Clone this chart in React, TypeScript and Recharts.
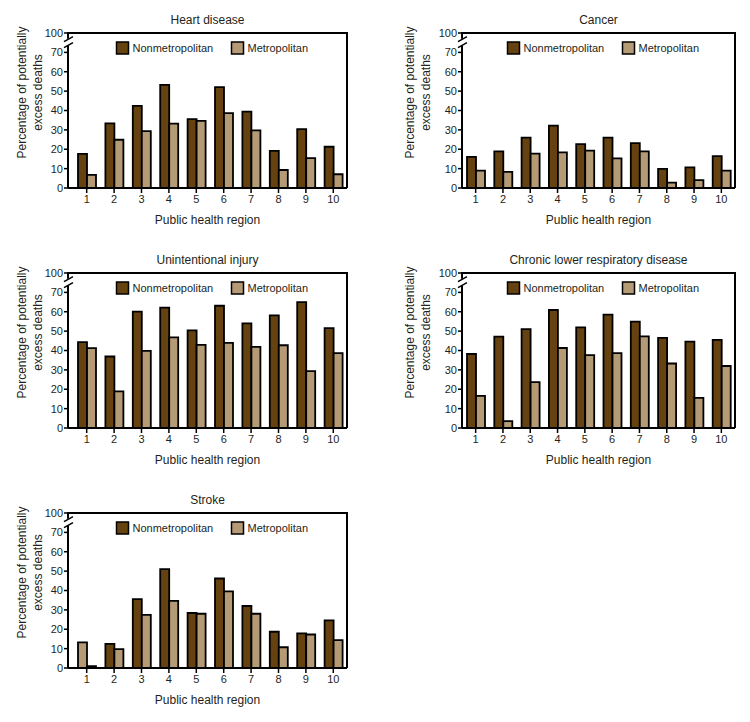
import { BarChart, Bar, XAxis, YAxis, Cell, usePlotArea } from "recharts";

const regions = ["1", "2", "3", "4", "5", "6", "7", "8", "9", "10"];
const seriesNames = ["Nonmetropolitan", "Metropolitan"];
const yTicks = [0, 10, 20, 30, 40, 50, 60, 70, 80];

const heartNonmetro = [17.6, 33.4, 42.4, 53.2, 35.5, 52.1, 39.4, 19.2, 30.4, 21.3];
const heartMetro = [6.8, 24.9, 29.4, 33.2, 34.6, 38.6, 29.7, 9.3, 15.4, 7.1];

const cancerNonmetro = [16.1, 18.9, 26.0, 32.2, 22.6, 26.0, 23.2, 9.9, 10.6, 16.5];
const cancerMetro = [9.0, 8.3, 17.7, 18.4, 19.3, 15.3, 18.9, 2.8, 4.1, 9.0];

const injuryNonmetro = [44.3, 36.9, 60.1, 62.1, 50.4, 63.1, 54.0, 58.1, 65.0, 51.6];
const injuryMetro = [41.2, 18.9, 39.8, 46.8, 42.9, 43.9, 41.9, 42.7, 29.4, 38.6];

const clrdNonmetro = [38.2, 47.2, 51.0, 60.9, 51.9, 58.5, 54.9, 46.5, 44.6, 45.5];
const clrdMetro = [16.6, 3.6, 23.7, 41.3, 37.6, 38.6, 47.3, 33.3, 15.5, 32.0];

const strokeNonmetro = [13.2, 12.5, 35.6, 51.0, 28.4, 46.2, 32.0, 18.7, 17.9, 24.6];
const strokeMetro = [1.0, 9.7, 27.4, 34.6, 28.0, 39.5, 28.0, 10.7, 17.3, 14.4];

const DARK = "#654210";
const LIGHT = "#b49b76";
const INK = "#231f20";

const panels = [
  { title: "Heart disease", nonmetro: heartNonmetro, metro: heartMetro, row: 0, col: 0 },
  { title: "Cancer", nonmetro: cancerNonmetro, metro: cancerMetro, row: 0, col: 1 },
  { title: "Unintentional injury", nonmetro: injuryNonmetro, metro: injuryMetro, row: 1, col: 0 },
  { title: "Chronic lower respiratory disease", nonmetro: clrdNonmetro, metro: clrdMetro, row: 1, col: 1 },
  // region 1 nonmetro bar is drawn in the lighter shade in the original
  { title: "Stroke", nonmetro: strokeNonmetro, metro: strokeMetro, row: 2, col: 0, lightFirst: true },
];

// per-column plot geometry (panel coords)
const cols = [
  { left: 68, right: 347, padLeft: 5, labelX: 22 },
  { left: 87, right: 360, padLeft: 0, labelX: 35 },
];
const PW = 375;
const PH = 240;
const TOP = 33;
const BOTTOM = 188;

function Frame({ title, labelX }: { title: string; labelX: number }) {
  const plot = usePlotArea();
  if (!plot) return null;
  const { x, y, width, height } = plot;
  const yOf = (v: number) => y + height * (1 - v / 80);
  const yc = yOf(75);
  const cx = x + width / 2;
  const midY = y + height / 2 - 18;
  const lx = cx - 91;
  const ly = y + 9;
  return (
    <g>
      <text x={cx} y={y - 9} textAnchor="middle" fontSize={12} fill={INK}>
        {title}
      </text>
      <line x1={x} y1={yOf(80)} x2={x + width} y2={yOf(80)} stroke="#000" strokeWidth={2} />
      <line x1={x + width} y1={yOf(80) - 1} x2={x + width} y2={yOf(0)} stroke="#000" strokeWidth={2} />
      <line x1={x} y1={yOf(80) - 1} x2={x} y2={yc - 4} stroke="#000" strokeWidth={2} />
      <line x1={x} y1={yc + 3} x2={x} y2={yOf(0)} stroke="#000" strokeWidth={2} />
      <line x1={x - 4} y1={yc - 1} x2={x + 5} y2={yc - 6} stroke="#000" strokeWidth={1.5} />
      <line x1={x - 4} y1={yc + 5} x2={x + 5} y2={yc} stroke="#000" strokeWidth={1.5} />
      <rect x={lx} y={ly} width={12} height={12} fill={DARK} stroke="#000" strokeWidth={1.5} />
      <text x={lx + 16} y={ly + 10} fontSize={11} fill={INK}>
        {seriesNames[0]}
      </text>
      <rect x={lx + 115} y={ly} width={12} height={12} fill={LIGHT} stroke="#000" strokeWidth={1.5} />
      <text x={lx + 131} y={ly + 10} fontSize={11} fill={INK}>
        {seriesNames[1]}
      </text>
      <g transform={`translate(${labelX}, ${midY}) rotate(-90)`}>
        <text x={0} y={4} textAnchor="middle" fontSize={12} fill={INK}>
          Percentage of potentially
        </text>
        <text x={0} y={20} textAnchor="middle" fontSize={12} fill={INK}>
          excess deaths
        </text>
      </g>
    </g>
  );
}

function Panel({ p }: { p: (typeof panels)[number] }) {
  const c = cols[p.col];
  const data = regions.map((r, i) => ({ region: r, nonmetro: p.nonmetro[i], metro: p.metro[i] }));
  return (
    <div style={{ position: "absolute", left: p.col * PW, top: p.row * PH }}>
      <BarChart
        width={PW}
        height={PH}
        data={data}
        barGap={0}
        margin={{ top: TOP, right: PW - c.right, left: c.left - 30, bottom: PH - BOTTOM - 30 }}
      >
        <XAxis
          dataKey="region"
          height={30}
          padding={{ left: c.padLeft, right: 0 }}
          axisLine={{ stroke: "#000", strokeWidth: 2 }}
          tickLine={{ stroke: "#000", strokeWidth: 1.5 }}
          tickSize={5}
          tick={{ fontSize: 11, fill: INK }}
          interval={0}
          label={{ value: "Public health region", position: "insideBottom", offset: -6, fontSize: 12, fill: INK }}
        />
        <YAxis
          width={30}
          domain={[0, 80]}
          ticks={yTicks}
          interval={0}
          tickFormatter={(v: number) => (v === 80 ? "100" : String(v))}
          axisLine={false}
          tickLine={{ stroke: "#000", strokeWidth: 1.5 }}
          tickSize={4}
          tickMargin={1}
          tick={{ fontSize: 11, fill: INK }}
        />
        <Bar dataKey="nonmetro" name={seriesNames[0]} fill={DARK} stroke="#000" strokeWidth={1.8} barSize={9} isAnimationActive={false}>
          {data.map((_, i) => (
            <Cell key={i} fill={p.lightFirst && i === 0 ? LIGHT : DARK} />
          ))}
        </Bar>
        <Bar dataKey="metro" name={seriesNames[1]} fill={LIGHT} stroke="#000" strokeWidth={1.8} barSize={9} isAnimationActive={false} />
        <Frame title={p.title} labelX={c.labelX} />
      </BarChart>
    </div>
  );
}

export default function App() {
  return (
    <div
      style={{
        position: "absolute",
        left: 0,
        top: 0,
        width: 750,
        height: 722,
        background: "#fff",
        fontFamily: "'Liberation Sans', Arial, sans-serif",
      }}
    >
      {panels.map((p) => (
        <Panel key={p.title} p={p} />
      ))}
    </div>
  );
}
